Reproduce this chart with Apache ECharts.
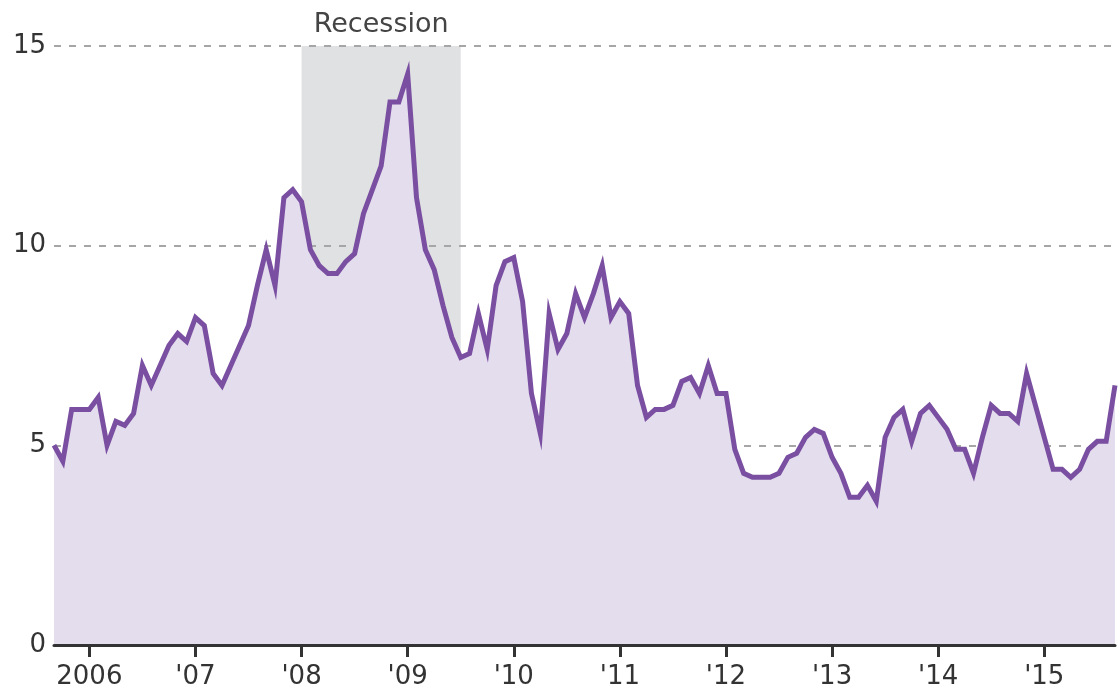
<!DOCTYPE html>
<html>
<head>
<meta charset="utf-8">
<style>
  html, body { margin: 0; padding: 0; background: #ffffff; }
  #chart { width: 1118px; height: 691px; }
</style>
<script src="https://cdn.jsdelivr.net/npm/echarts@6/dist/echarts.min.js"></script>
</head>
<body>
<div id="chart"></div>
<script>
// Monthly series, Sep 2005 – Sep 2015
var startYear = 2005;
var startMonth = 9;
var values = [
  5.0, 4.6, 5.9, 5.9, 5.9, 6.2, 5.0, 5.6, 5.5, 5.8,
  7.0, 6.5, 7.0, 7.5, 7.8, 7.6, 8.2, 8.0, 6.8, 6.5,
  7.0, 7.5, 8.0, 9.0, 9.9, 9.0, 11.2, 11.4, 11.1, 9.9,
  9.5, 9.3, 9.3, 9.6, 9.8, 10.8, 11.4, 12.0, 13.6, 13.6,
  14.3, 11.2, 9.9, 9.4, 8.5, 7.7, 7.2, 7.3, 8.3, 7.4,
  9.0, 9.6, 9.7, 8.6, 6.3, 5.3, 8.3, 7.4, 7.8, 8.8,
  8.2, 8.8, 9.5, 8.2, 8.6, 8.3, 6.5, 5.7, 5.9, 5.9,
  6.0, 6.6, 6.7, 6.3, 7.0, 6.3, 6.3, 4.9, 4.3, 4.2,
  4.2, 4.2, 4.3, 4.7, 4.8, 5.2, 5.4, 5.3, 4.7, 4.3,
  3.7, 3.7, 4.0, 3.6, 5.2, 5.7, 5.9, 5.1, 5.8, 6.0,
  5.7, 5.4, 4.9, 4.9, 4.3, 5.2, 6.0, 5.8, 5.8, 5.6,
  6.8, 6.0, 5.2, 4.4, 4.4, 4.2, 4.4, 4.9, 5.1, 5.1,
  6.5
];
var categories = [];
for (var k = 0; k < values.length; k++) {
  var m = startMonth - 1 + k;
  var y = startYear + Math.floor(m / 12);
  var mm = (m % 12) + 1;
  categories.push(y + '-' + (mm < 10 ? '0' + mm : '' + mm));
}
var tickYears = ['2006', '2007', '2008', '2009', '2010', '2011', '2012', '2013', '2014', '2015'];
var tickLabels = ['2006', "'07", "'08", "'09", "'10", "'11", "'12", "'13", "'14", "'15"];
var recessionStart = '2008-01';
var recessionEnd = '2009-07';
var recessionLabel = 'Recession';
var yTicks = [0, 5, 10, 15];

var FONT = 'DejaVu Sans';
function isJan(index, value) { return /-01$/.test(value); }

var chart = echarts.init(document.getElementById('chart'), null, { renderer: 'canvas' });
chart.setOption({
  animation: false,
  backgroundColor: '#ffffff',
  grid: { left: 54, right: 3, top: 46, bottom: 46, containLabel: false, outerBoundsMode: 'none' },
  xAxis: {
    type: 'category',
    data: categories,
    boundaryGap: false,
    z: 3,
    axisLine: { show: true, lineStyle: { color: '#333333', width: 3 } },
    axisTick: { show: true, interval: isJan, length: 12, lineStyle: { color: '#333333', width: 3 } },
    axisLabel: {
      interval: isJan,
      margin: 19,
      fontFamily: FONT,
      fontSize: 26,
      color: '#333333',
      formatter: function (v) {
        var yr = v.slice(0, 4);
        var idx = tickYears.indexOf(yr);
        return idx >= 0 ? tickLabels[idx] : '';
      }
    },
    splitLine: { show: false }
  },
  yAxis: {
    type: 'value',
    min: yTicks[0],
    max: yTicks[yTicks.length - 1],
    interval: 5,
    z: 1.5,
    axisLine: { show: false },
    axisTick: { show: false },
    axisLabel: { fontFamily: FONT, fontSize: 26, color: '#333333', margin: 8 },
    splitLine: {
      show: true,
      lineStyle: { color: '#a6a6a6', width: 2, type: [7, 8] }
    }
  },
  series: [
    {
      type: 'line',
      z: 1,
      data: [],
      silent: true,
      markArea: {
        silent: true,
        itemStyle: { color: '#e0e1e3' },
        label: {
          show: true,
          position: 'top',
          distance: 8,
          formatter: recessionLabel,
          fontFamily: FONT,
          fontSize: 27,
          color: '#444444'
        },
        data: [[
          { xAxis: recessionStart, yAxis: 15 },
          { xAxis: recessionEnd, yAxis: 0 }
        ]]
      }
    },
    {
      type: 'line',
      z: 2,
      data: values,
      symbol: 'none',
      silent: true,
      lineStyle: { color: '#7a4fa1', width: 5, join: 'miter' },
      itemStyle: { color: '#7a4fa1' },
      areaStyle: { color: '#e3ddee', opacity: 1 }
    }
  ]
});
</script>
</body>
</html>
